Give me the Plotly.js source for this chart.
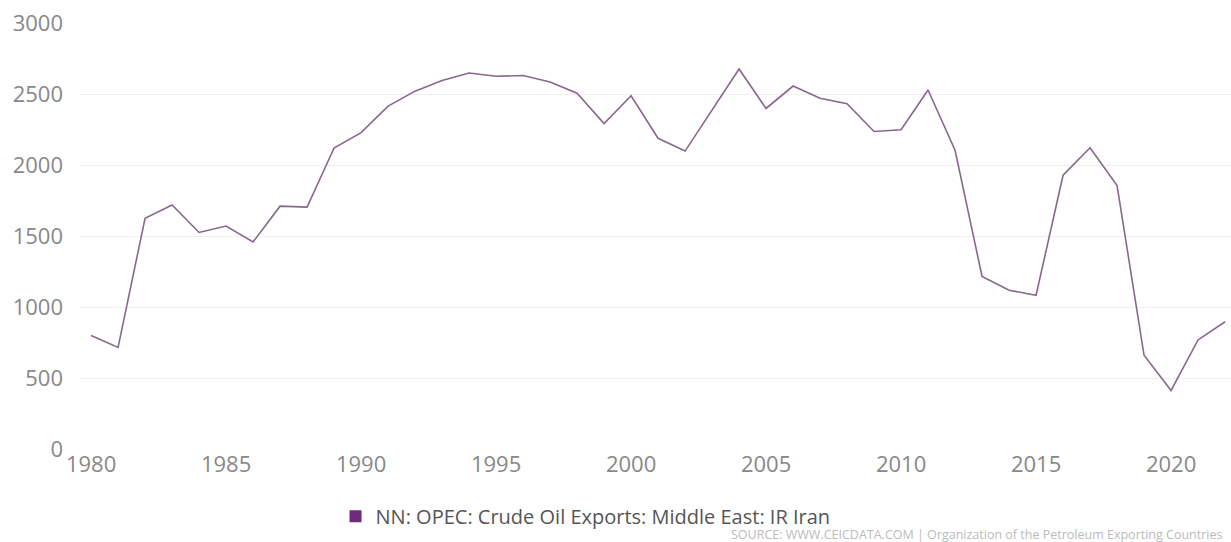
<!DOCTYPE html>
<html>
<head>
<meta charset="utf-8">
<script src="https://cdn.plot.ly/plotly-3.0.1.min.js"></script>
<style>html,body{margin:0;padding:0;background:#fff;}#chart{width:1231px;height:542px;}</style>
</head>
<body>
<div id="chart"></div>
<script>
const years = [1980,1981,1982,1983,1984,1985,1986,1987,1988,1989,1990,1991,1992,1993,1994,1995,1996,1997,1998,1999,2000,2001,2002,2003,2004,2005,2006,2007,2008,2009,2010,2011,2012,2013,2014,2015,2016,2017,2018,2019,2020,2021,2022];
const exportsIran = [800,715,1625,1718,1525,1570,1458,1710,1703,2120,2228,2415,2520,2595,2648,2625,2630,2585,2505,2292,2488,2188,2098,2388,2676,2398,2556,2470,2432,2236,2248,2528,2104,1215,1118,1083,1928,2122,1856,660,412,768,896];
const yTicks = [0,500,1000,1500,2000,2500,3000];
const xTicks = [1980,1985,1990,1995,2000,2005,2010,2015,2020];
const seriesName = "NN: OPEC: Crude Oil Exports: Middle East: IR Iran";
const sourceText = "SOURCE: WWW.CEICDATA.COM | Organization of the Petroleum Exporting Countries";

const traces = [
  {
    x: years, y: exportsIran, type: 'scatter', mode: 'lines',
    line: {color: '#8a668f', width: 1.6},
    showlegend: false, hoverinfo: 'x+y'
  },
  {
    x: [null], y: [null], type: 'bar', name: seriesName,
    marker: {color: '#6e2a7c'}, showlegend: true
  }
];

const layout = {
  width: 1231, height: 542,
  margin: {l: 80, r: 0, t: 23, b: 93},
  paper_bgcolor: '#fff', plot_bgcolor: '#fff',
  font: {family: '"Open Sans", sans-serif', color: '#888'},
  xaxis: {
    range: [1979.59, 2022.22], tickvals: xTicks, ticktext: xTicks.map(String),
    showgrid: false, zeroline: false, showline: false, ticks: '',
    tickfont: {size: 22, color: '#888'}, ticklabelstandoff: 0
  },
  yaxis: {
    range: [0, 3000], tickvals: yTicks, ticktext: yTicks.map(String),
    showgrid: true, gridcolor: '#efefef', gridwidth: 1,
    zeroline: false, showline: false, ticks: '',
    tickfont: {size: 22, color: '#888'}, ticklabelstandoff: 16
  },
  showlegend: true,
  legend: {
    orientation: 'h', x: 0.222, xanchor: 'left', y: -0.158, yanchor: 'middle',
    font: {size: 20, color: '#555'}, bgcolor: 'rgba(0,0,0,0)'
  },
  annotations: [{
    text: sourceText, xref: 'paper', yref: 'paper', x: 0.995, y: -0.2,
    xanchor: 'right', yanchor: 'middle', showarrow: false,
    font: {size: 12.5, color: '#bbb'}
  }]
};

Plotly.newPlot('chart', traces, layout, {displayModeBar: false, staticPlot: true});
</script>
</body>
</html>
